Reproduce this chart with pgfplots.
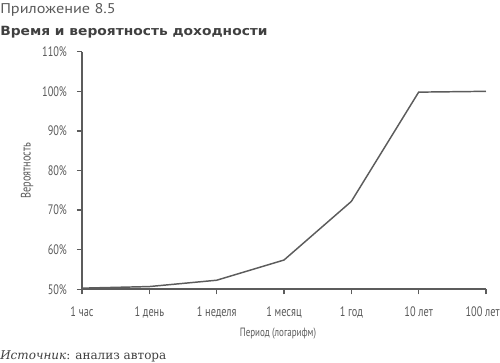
\documentclass[border=0pt]{standalone}
\usepackage{fontspec}
\setmainfont{PT Sans}
\newfontfamily\cond[FakeStretch=0.75]{PT Sans}
\newfontfamily\wide[FakeStretch=1.15]{PT Sans}
\newfontfamily\boldt[FakeStretch=1.09]{DejaVu Sans}
\newfontfamily\srf{DejaVu Serif}
\usepackage{pgfplots}
\pgfplotsset{compat=1.18}
\definecolor{lc}{HTML}{5C5C5C}
\definecolor{tc}{HTML}{5A5A5A}
\definecolor{hc}{HTML}{404040}
\begin{document}
\begin{tikzpicture}
\useasboundingbox (0pt,0pt) rectangle (375pt,271.5pt);
\node[anchor=base west, inner sep=0, font=\wide\fontsize{10.6}{12}\selectfont, text=tc] at (0pt,261.5pt) {Приложение 8.5};
\node[anchor=base west, inner sep=0, font=\boldt\bfseries\fontsize{9.5}{11}\selectfont, text=hc] at (0pt,244.7pt) {Время и вероятность доходности};
\node[anchor=base west, inner sep=0, font=\srf\fontsize{9}{10}\selectfont, text=hc] at (0pt,2.25pt) {\textit{Источник}: анализ автора};
\begin{axis}[
  at={(61.5pt,54.5pt)}, anchor=south west,
  scale only axis, width=303pt, height=178.2pt,
  xmin=0, xmax=6, ymin=50, ymax=110,
  axis x line*=bottom, axis y line*=left,
  axis line style={lc, line width=1.4pt, -},
  tick align=outside,
  major tick length=3.75pt,
  tick style={lc, line width=1.1pt},
  xtick={0,...,6},
  xticklabels={1 час,1 день,1 неделя,1 месяц,1 год,10 лет,\hspace*{-5pt}100 лет},
  ytick={50,60,...,110},
  yticklabel={\pgfmathprintnumber{\tick}\%},
  /pgf/number format/assume math mode=true,
  ticklabel style={font=\cond\fontsize{10.3}{10}\selectfont, text=tc},
  xticklabel style={yshift=-6pt},
  yticklabel style={xshift=-4pt},
  xlabel={Период (логарифм)},
  ylabel={Вероятность},
  xlabel style={font=\cond\fontsize{9}{10}\selectfont, text=tc, at={(axis description cs:0.485,0)}, anchor=center, yshift=-33pt},
  ylabel style={font=\cond\fontsize{10.3}{10}\selectfont, text=tc, at={(axis description cs:-0.136,0.5)}, anchor=center},
  clip=false,
]
\addplot[lc, line width=1.1pt] coordinates {
  (0,50.3) (1,50.7) (2,52.3) (3,57.4) (4,72.2) (5,99.8) (6,100)
};
\end{axis}
\end{tikzpicture}
\end{document}
